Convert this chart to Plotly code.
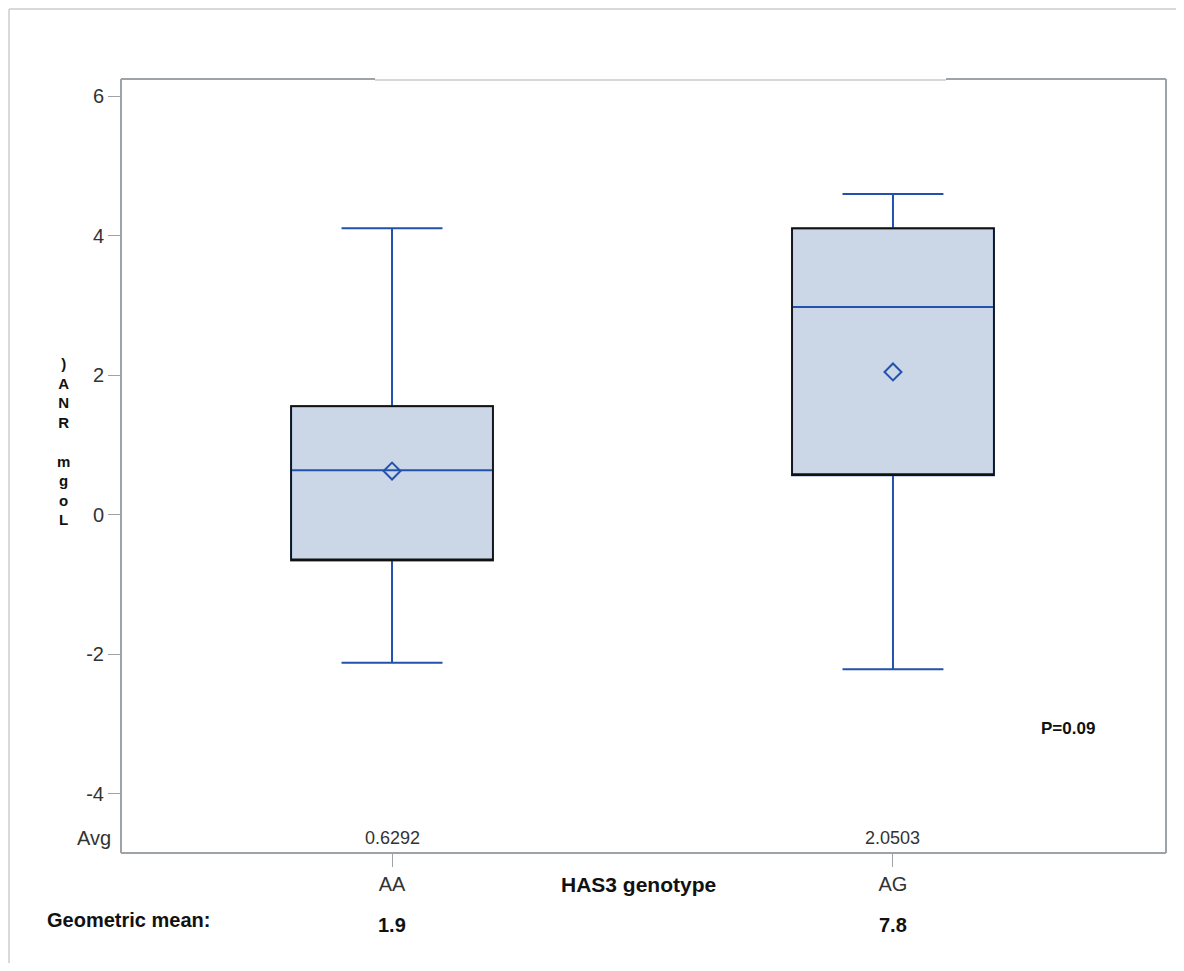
import plotly.graph_objects as go

# ---- data ----
genotypes = ["AA", "AG"]
lower_whisker = [-2.12, -2.21]
q1_vals = [-0.65, 0.57]
median_vals = [0.64, 2.98]
q3_vals = [1.56, 4.11]
upper_whisker = [4.11, 4.60]
avg_vals = [0.6292, 2.0503]
avg_labels = ["0.6292", "2.0503"]
geo_means = ["1.9", "7.8"]
y_ticks = [-4, -2, 0, 2, 4, 6]
y_title_chars = [")", "A", "N", "R", " ", "m", "g", "o", "L"]
p_value_text = "P=0.09"

BLUE = "#2352ad"
FILL = "#cbd6e7"
AX = "#9ea3a8"
TXT = "#333333"
NARROW = "Liberation Sans Narrow, Arial Narrow, Liberation Sans, Arial"
BOLD = "Liberation Sans, Arial"

# page offset (browser body margin)
OFF = 8
W, H = 1184 - 2 * OFF, 971 - 2 * OFF
# plot area in screen pixels
SL, SR, ST, SB = 121, 1166, 79, 853
L, R, T, B = SL - OFF, SR - OFF, ST - OFF, SB - OFF

def px_x(p):  # screen px -> paper
    return (p - OFF - L) / (R - L)

def px_y(p):
    return (B - (p - OFF)) / (B - T)

fig = go.Figure()

# blue box: fill, whiskers, median
fig.add_trace(go.Box(
    x=genotypes, q1=q1_vals, median=median_vals, q3=q3_vals,
    lowerfence=lower_whisker, upperfence=upper_whisker,
    fillcolor=FILL, line=dict(color=BLUE, width=2),
    width=0.403, whiskerwidth=0.5, boxpoints=False,
    showlegend=False, hoverinfo="skip"))

# black outline of the box
fig.add_trace(go.Box(
    x=genotypes, q1=q1_vals, median=q1_vals, q3=q3_vals,
    lowerfence=q1_vals, upperfence=q3_vals,
    fillcolor="rgba(0,0,0,0)", line=dict(color="#111111", width=1.7),
    width=0.403, whiskerwidth=0, boxpoints=False,
    showlegend=False, hoverinfo="skip"))

# mean diamonds
fig.add_trace(go.Scatter(
    x=genotypes, y=avg_vals, mode="markers",
    marker=dict(symbol="diamond-open", size=13, color=BLUE,
                line=dict(color=BLUE, width=2)),
    showlegend=False, hoverinfo="skip"))

fig.update_layout(
    width=W, height=H,
    margin=dict(l=L, r=W - R, t=T, b=H - B),
    paper_bgcolor="white", plot_bgcolor="white",
    boxmode="overlay",
    font=dict(family=NARROW, size=20, color=TXT),
    xaxis=dict(
        type="category", range=[-0.541, 1.545],
        showgrid=False, zeroline=False,
        showline=False,
        ticks="outside", ticklen=13, tickwidth=1, tickcolor=AX,
        tickfont=dict(family=NARROW, size=20, color=TXT),
    ),
    yaxis=dict(
        range=[-4.846, 6.25], tickvals=y_ticks,
        ticktext=[str(v) for v in y_ticks],
        showgrid=False, zeroline=False, showline=False,
        ticks="outside", ticklen=12, tickwidth=1, tickcolor=AX,
        tickfont=dict(family=NARROW, size=20, color=TXT),
    ),
)

# plot frame (top border lighter in the middle)
shapes = [
    dict(type="line", xref="paper", yref="paper", x0=0, x1=0, y0=0, y1=1,
         line=dict(color=AX, width=2)),
    dict(type="line", xref="paper", yref="paper", x0=0, x1=1, y0=0, y1=0,
         line=dict(color=AX, width=2)),
    dict(type="line", xref="paper", yref="paper", x0=1, x1=1, y0=0, y1=1,
         line=dict(color=AX, width=2)),
    dict(type="line", xref="paper", yref="paper", x0=0, x1=px_x(375), y0=1, y1=1,
         line=dict(color=AX, width=2)),
    dict(type="line", xref="paper", yref="paper", x0=px_x(375), x1=px_x(946),
         y0=px_y(80), y1=px_y(80), line=dict(color="#c9cbcd", width=1.5)),
    dict(type="line", xref="paper", yref="paper", x0=px_x(946), x1=1, y0=1, y1=1,
         line=dict(color=AX, width=2)),
    # outer image frame (top + left)
    dict(type="line", xref="paper", yref="paper", x0=px_x(9), x1=px_x(1184),
         y0=px_y(9), y1=px_y(9), line=dict(color="#d9d9d9", width=2)),
    dict(type="line", xref="paper", yref="paper", x0=px_x(9), x1=px_x(9),
         y0=px_y(9), y1=px_y(971), line=dict(color="#d9d9d9", width=2)),
]
fig.update_layout(shapes=shapes)

ann = []
# Avg row
ann.append(dict(text="Avg", xref="paper", yref="paper", x=px_x(113), y=px_y(838),
                xanchor="right", yanchor="middle", showarrow=False,
                font=dict(family=NARROW, size=20, color=TXT)))
for g, lab in zip(genotypes, avg_labels):
    ann.append(dict(text=lab, xref="x", yref="paper", x=g, y=px_y(838),
                    xanchor="center", yanchor="middle", showarrow=False,
                    font=dict(family=NARROW, size=18, color=TXT)))
# geometric means
for g, gm in zip(genotypes, geo_means):
    ann.append(dict(text="<b>" + gm + "</b>", xref="x", yref="paper", x=g, y=px_y(925),
                    xanchor="center", yanchor="middle", showarrow=False,
                    font=dict(family=BOLD, size=20, color="#111111")))
ann.append(dict(text="<b>Geometric mean:</b>", xref="paper", yref="paper",
                x=px_x(45), y=px_y(920), xanchor="left", yanchor="middle",
                showarrow=False, font=dict(family=BOLD, size=20, color="#111111")))
# x axis title
ann.append(dict(text="<b>HAS3 genotype</b>", xref="paper", yref="paper",
                x=px_x(638), y=px_y(884), xanchor="center", yanchor="middle",
                showarrow=False, font=dict(family=BOLD, size=21, color="#111111")))
# p value
ann.append(dict(text="<b>" + p_value_text + "</b>", xref="paper", yref="paper",
                x=px_x(1068), y=px_y(728), xanchor="center", yanchor="middle",
                showarrow=False, font=dict(family=BOLD, size=17, color="#111111")))
# stacked y-axis title (one character per line)
ann.append(dict(text="<b>" + "<br>".join(y_title_chars) + "</b>",
                xref="paper", yref="paper", x=px_x(63), y=px_y(442),
                xanchor="center", yanchor="middle", showarrow=False,
                align="center",
                font=dict(family=BOLD, size=15, color="#111111")))
fig.update_layout(annotations=ann)

fig.write_html("out.html")
